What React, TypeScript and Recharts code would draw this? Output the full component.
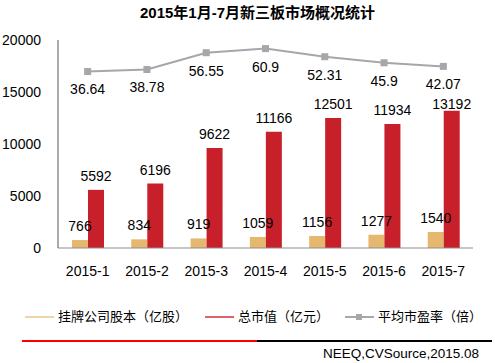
import { ComposedChart, Bar, Line, XAxis, YAxis, LabelList } from 'recharts'

const months = ['2015-1', '2015-2', '2015-3', '2015-4', '2015-5', '2015-6', '2015-7']
const shareCapital = [766, 834, 919, 1059, 1156, 1277, 1540]
const marketValue = [5592, 6196, 9622, 11166, 12501, 11934, 13192]
const avgPE = [36.64, 38.78, 56.55, 60.9, 52.31, 45.9, 42.07]
const leftTicks = [0, 5000, 10000, 15000, 20000]

const data = months.map((m, i) => ({
  month: m,
  capital: shareCapital[i],
  value: marketValue[i],
  pe: avgPE[i],
}))

const font = '"Liberation Sans", Arial, "Noto Sans CJK SC", sans-serif'
const tickStyle = { fontSize: 14, fill: '#000', fontFamily: font }

function SquareDot(props: any) {
  const { cx, cy, index } = props
  return <rect key={index} x={cx - 3.5} y={cy - 3.5} width={7} height={7} fill="#A6A6AB" />
}

// bar value label; the last one sits lower so it clears the PE label above it
function ValueLabel(props: any) {
  const { x, y, width, value, index } = props
  const gap = index === data.length - 1 ? 2 : 9
  return (
    <text x={x + width / 2} y={y - gap} textAnchor="middle" fontSize={14} fill="#000" fontFamily={font}>
      {value}
    </text>
  )
}

function LegendItem({ color, label, marker, width }: { color: string; label: string; marker?: boolean; width: number }) {
  return (
    <div style={{ display: 'flex', alignItems: 'center', width }}>
      <svg width={30} height={10} style={{ marginRight: 3 }}>
        <line x1={0} y1={5} x2={29} y2={5} stroke={color} strokeWidth={marker ? 2 : 1.2} />
        {marker && <rect x={11} y={2} width={6} height={6} fill={color} />}
      </svg>
      <span>{label}</span>
    </div>
  )
}

export default function App() {
  return (
    <div style={{ position: 'absolute', left: 0, top: 0, width: 495, height: 363, background: '#fff', fontFamily: font }}>
      <div style={{ position: 'absolute', left: 140, top: 4, fontSize: 15, fontWeight: 'bold', lineHeight: '17px', whiteSpace: 'nowrap' }}>
        2015年1月-7月新三板市场概况统计
      </div>
      <ComposedChart
        width={495}
        height={290}
        data={data}
        margin={{ top: 40, right: 22, bottom: 0, left: 0 }}
        barGap={0}
        style={{ position: 'absolute', left: 0, top: 0 }}
      >
        <XAxis
          dataKey="month"
          height={42}
          tickLine={false}
          tickMargin={12}
          axisLine={{ stroke: '#8C8C8C' }}
          tick={tickStyle}
          interval={0}
        />
        <YAxis
          yAxisId="left"
          width={58}
          domain={[0, 20000]}
          ticks={leftTicks}
          tickLine={false}
          tickSize={0}
          tickMargin={17}
          axisLine={{ stroke: '#595959' }}
          tick={tickStyle}
        />
        <YAxis yAxisId="right" orientation="right" hide domain={[-150, 70]} />
        <Bar yAxisId="left" dataKey="capital" fill="#E6B86F" barSize={16} isAnimationActive={false}>
          <LabelList dataKey="capital" position="top" offset={9} style={{ fontSize: 14, fill: '#000', fontFamily: font }} />
        </Bar>
        <Bar yAxisId="left" dataKey="value" fill="#C8202A" barSize={16} isAnimationActive={false}>
          <LabelList dataKey="value" content={ValueLabel} />
        </Bar>
        <Line
          yAxisId="right"
          dataKey="pe"
          stroke="#A6A6AB"
          strokeWidth={2}
          dot={SquareDot}
          activeDot={false}
          isAnimationActive={false}
        >
          <LabelList dataKey="pe" position="bottom" offset={13} style={{ fontSize: 14, fill: '#000', fontFamily: font }} />
        </Line>
      </ComposedChart>
      <div style={{ position: 'absolute', left: 25, top: 308, display: 'flex', fontSize: 13, lineHeight: '18px', whiteSpace: 'nowrap' }}>
        <LegendItem color="#E6B86F" label="挂牌公司股本（亿股）" width={180} />
        <LegendItem color="#C00000" label="总市值（亿元）" width={140} />
        <LegendItem color="#A6A6AB" label="平均市盈率（倍）" marker width={150} />
      </div>
      <div style={{ position: 'absolute', left: 22, top: 340, width: 235, height: 2, background: '#FF0000' }} />
      <div style={{ position: 'absolute', left: 257, top: 340, width: 235, height: 2, background: '#000' }} />
      <div style={{ position: 'absolute', right: 16, top: 346, fontSize: 13.5, lineHeight: '16px' }}>
        NEEQ,CVSource,2015.08
      </div>
    </div>
  )
}
